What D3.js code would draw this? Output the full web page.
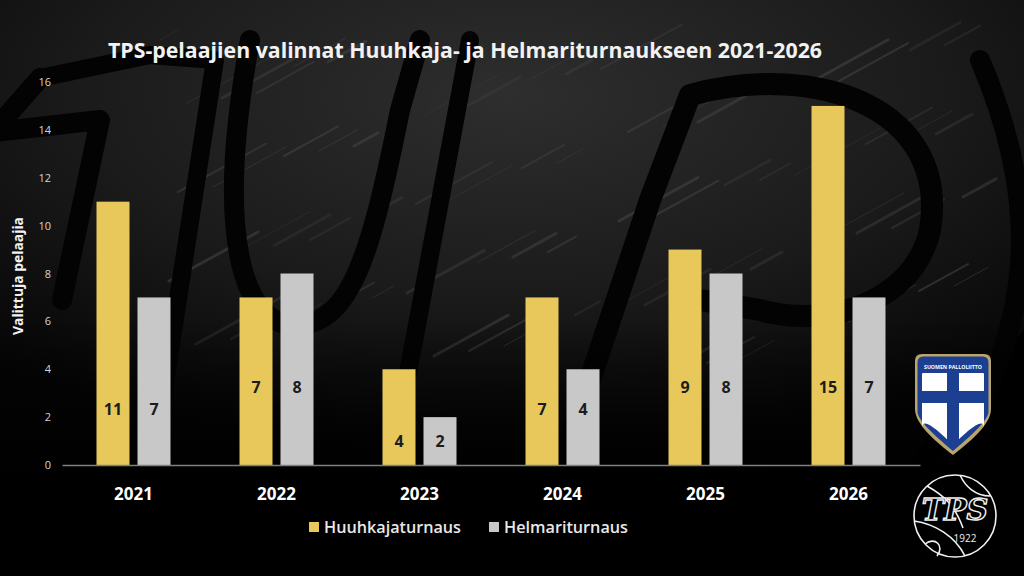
<!DOCTYPE html>
<html><head><meta charset="utf-8">
<script src="https://cdn.jsdelivr.net/npm/d3@7"></script>
<style>html,body{margin:0;padding:0;background:#000;overflow:hidden}svg{display:block}</style>
</head><body>
<svg id="c" width="1024" height="576"></svg>
<script>
// ---- data ----
const years = ["2021","2022","2023","2024","2025","2026"];
const seriesNames = ["Huuhkajaturnaus","Helmariturnaus"];
const huuhkaja = [11,7,4,7,9,15];
const helmari = [7,8,2,4,8,7];
const labelLevel = [2.35,3.25,1.0,2.35,3.25,3.25]; // vertical level of value labels (in axis units)
const yTicks = [0,2,4,6,8,10,12,14,16];
const titleText = "TPS-pelaajien valinnat Huuhkaja- ja Helmariturnaukseen 2021-2026";
const yTitle = "Valittuja pelaajia";
const colors = {"Huuhkajaturnaus":"#e8c85a","Helmariturnaus":"#c8c8c8"};

const svg = d3.select("#c");
const W=1024,H=576;
const FONT = "'Open Sans','Noto Sans',sans-serif";

// ---- background ----
const defs = svg.append("defs");
const rg = defs.append("radialGradient").attr("id","bgG").attr("cx","0.5").attr("cy","0.2").attr("r","0.75");
rg.append("stop").attr("offset","0").attr("stop-color","#2e2e2e");
rg.append("stop").attr("offset","0.55").attr("stop-color","#1b1b1b");
rg.append("stop").attr("offset","1").attr("stop-color","#050505");
svg.append("rect").attr("width",W).attr("height",H).attr("fill","#000");
svg.append("path")
  .attr("d","M0,0 L1024,0 L1024,330 L900,470 L0,480 Z")
  .attr("fill","url(#bgG)");
const lg = defs.append("linearGradient").attr("id","fadeB").attr("x1",0).attr("y1",0).attr("x2",0).attr("y2",1);
lg.append("stop").attr("offset","0.55").attr("stop-color","#000").attr("stop-opacity",0);
lg.append("stop").attr("offset","0.85").attr("stop-color","#000").attr("stop-opacity",1);
// streaks (decorative)
const streaks = svg.append("g").attr("stroke","#4a4a4a").attr("stroke-linecap","round");
for(let i=0;i<70;i++){
  const x = 160 + (i*97)%820, y = 40 + (i*53)%330;
  const len = 20 + (i*37)%70;
  streaks.append("line").attr("x1",x).attr("y1",y).attr("x2",x+len).attr("y2",y-len*0.55)
    .attr("stroke-width",1+(i%3)).attr("opacity",0.25+((i*7)%5)*0.06);
}
// big black letter outlines
const outl = svg.append("g").attr("fill","none").attr("stroke","#030303").attr("stroke-linejoin","round").attr("stroke-linecap","round");
outl.append("path").attr("d","M-10,135 L40,78 M-5,132 L100,120 L62,300").attr("stroke-width",20);
outl.append("path").attr("d","M40,78 L150,55 L215,60 L150,480").attr("stroke-width",18);
outl.append("path").attr("d","M250,40 C215,230 240,330 300,325 C350,320 370,260 400,110 L420,40").attr("stroke-width",20);
outl.append("path").attr("d","M470,40 L390,470").attr("stroke-width",18);
outl.append("path").attr("d","M560,470 L650,200 L690,95 C820,60 950,110 930,230 C915,300 830,330 760,310 L700,300").attr("stroke-width",22);
outl.append("path").attr("d","M980,60 C1040,200 1040,330 940,470").attr("stroke-width",20);
svg.append("rect").attr("width",W).attr("height",H).attr("fill","url(#fadeB)");

// ---- scales ----
const x0 = d3.scaleBand().domain(years).range([62,920]).padding(0);
const x1 = d3.scaleBand().domain(seriesNames).range([34.5,108.5]).paddingInner(0.195).paddingOuter(0);
const y = d3.scaleLinear().domain([0,16]).range([465,82]);

// ---- title ----
svg.append("text").attr("x",465).attr("y",58).attr("text-anchor","middle")
  .attr("font-family",FONT).attr("font-weight",700).attr("font-size",21).attr("fill","#f2f2f2")
  .attr("textLength",714).attr("lengthAdjust","spacingAndGlyphs").text(titleText);

// ---- y axis ----
const yAxis = d3.axisLeft(y).tickValues(yTicks).tickSize(0).tickPadding(0);
const gy = svg.append("g").attr("transform","translate(51,0)").attr("color","#d4d4d4").call(yAxis);
gy.select(".domain").remove();
gy.selectAll("text").attr("font-family",FONT).attr("font-size",11).attr("fill","#d4d4d4");

svg.append("text").attr("transform","translate(23,276) rotate(-90)").attr("text-anchor","middle")
  .attr("font-family",FONT).attr("font-weight",700).attr("font-size",14).attr("fill","#f2f2f2")
  .attr("textLength",118).attr("lengthAdjust","spacingAndGlyphs")
  .text(yTitle);

// ---- bars ----
const rows = years.map((yr,i)=>({year:yr,i,vals:[{s:seriesNames[0],v:huuhkaja[i]},{s:seriesNames[1],v:helmari[i]}]}));
const groups = svg.append("g").selectAll("g").data(rows).join("g")
  .attr("transform",d=>`translate(${x0(d.year)},0)`);
groups.selectAll("rect").data(d=>d.vals).join("rect")
  .attr("x",d=>x1(d.s)).attr("width",x1.bandwidth())
  .attr("y",d=>y(d.v)).attr("height",d=>y(0)-y(d.v))
  .attr("fill",d=>colors[d.s]);
groups.selectAll("text.val").data(d=>d.vals.map(v=>({...v,lvl:labelLevel[d.i]}))).join("text")
  .attr("class","val")
  .attr("x",d=>x1(d.s)+x1.bandwidth()/2).attr("y",d=>y(d.lvl)+6)
  .attr("text-anchor","middle").attr("font-family",FONT).attr("font-weight",700)
  .attr("font-size",16).attr("fill","#1c1c1c").text(d=>d.v);

// ---- x axis ----
const xAxis = d3.axisBottom(x0).tickSize(0).tickPadding(0);
const gx = svg.append("g").attr("transform","translate(0,465)").call(xAxis);
gx.select(".domain").attr("stroke","#808080").attr("stroke-width",1.5);
gx.selectAll("text").attr("dy",0).attr("y",35).attr("font-family",FONT).attr("font-weight",700)
  .attr("font-size",17).attr("fill","#ffffff");

// ---- legend ----
const legendX = [309,489];
const legendW = [137,124];
const leg = svg.append("g").selectAll("g").data(seriesNames).join("g")
  .attr("transform",(d,i)=>`translate(${legendX[i]},522)`);
leg.append("rect").attr("width",10).attr("height",10).attr("fill",d=>colors[d]);
leg.append("text").attr("x",15).attr("y",11).attr("font-family",FONT).attr("font-weight",600)
  .attr("font-size",16).attr("fill","#e8e8e8")
  .attr("textLength",(d,i)=>legendW[i]).attr("lengthAdjust","spacingAndGlyphs").text(d=>d);

// ---- logos (decorative) ----
const shield = svg.append("g").attr("transform","translate(953,0)");
const shieldPath = (w,top,bot,r)=>`M${-w},${top+r} Q${-w},${top} ${-w+r},${top} L${w-r},${top} Q${w},${top} ${w},${top+r} L${w},${top+55} C${w},${bot-30} ${w*0.4},${bot-12} 0,${bot} C${-w*0.4},${bot-12} ${-w},${bot-30} ${-w},${top+55} Z`;
shield.append("path").attr("d",shieldPath(38,354,455,7)).attr("fill","#b9a46c");
shield.append("path").attr("d",shieldPath(35.5,356.5,451,6)).attr("fill","#1d3f92");
shield.append("path").attr("d",shieldPath(31,373,445,1)).attr("fill","#ffffff");
shield.append("rect").attr("x",-31).attr("y",391).attr("width",62).attr("height",12).attr("fill","#1d3f92");
shield.append("rect").attr("x",-6).attr("y",373).attr("width",12).attr("height",72).attr("fill","#1d3f92");
shield.append("text").attr("x",0).attr("y",369).attr("text-anchor","middle").attr("font-family",FONT)
  .attr("font-weight",700).attr("font-size",6).attr("fill","#fff").attr("textLength",58).attr("lengthAdjust","spacingAndGlyphs")
  .text("SUOMEN PALLOLIITTO");

const tps = svg.append("g").attr("transform","translate(955,516)").attr("fill","none").attr("stroke","#f0f0f0").attr("stroke-width",1.6);
tps.append("circle").attr("r",41);
tps.append("path").attr("d","M-28,-30 C-10,-20 0,-10 8,12 M-41,5 C-20,8 0,20 10,40 M-30,28 C-20,20 -10,30 -18,40 M5,-41 C10,-30 20,-20 35,-20");
tps.append("text").attr("x",0).attr("y",4).attr("text-anchor","middle").attr("font-family","'DejaVu Serif',serif")
  .attr("font-style","italic").attr("font-weight",700).attr("font-size",30).attr("fill","#000").attr("stroke","#f0f0f0").attr("stroke-width",1.4)
  .text("TPS");
tps.append("text").attr("x",10).attr("y",26).attr("text-anchor","middle").attr("font-family",FONT)
  .attr("font-size",10).attr("fill","#f0f0f0").attr("stroke","none").text("1922");
</script>
</body></html>
